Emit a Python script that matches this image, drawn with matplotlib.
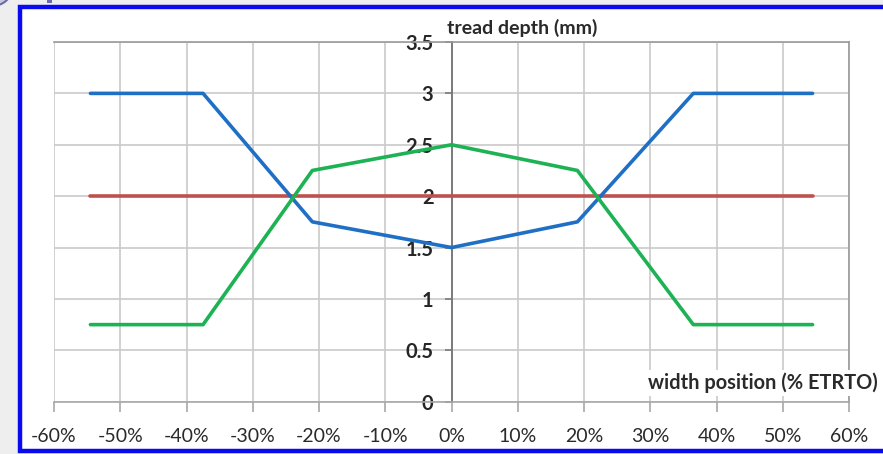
import matplotlib
matplotlib.use("Agg")
import matplotlib.pyplot as plt
from matplotlib.patches import Rectangle, Ellipse

plt.rcParams['font.family'] = ['Lato', 'DejaVu Sans']

# ---- data ----
x_pos = [-54.5, -37.5, -21, 0, 19, 36.5, 54.5]
blue_depth = [3, 3, 1.75, 1.5, 1.75, 3, 3]
green_depth = [0.75, 0.75, 2.25, 2.5, 2.25, 0.75, 0.75]
red_x = [-54.5, 54.5]
red_depth = [2, 2]
x_ticks = [-60, -50, -40, -30, -20, -10, 0, 10, 20, 30, 40, 50, 60]
x_ticklabels = [f"{v}%" for v in x_ticks]
y_ticks = [0, 0.5, 1, 1.5, 2, 2.5, 3, 3.5]
y_ticklabels = ["0", "0.5", "1", "1.5", "2", "2.5", "3", "3.5"]
y_title = "tread depth (mm)"
x_title = "width position (% ETRTO)"

W, H = 883, 454
fig = plt.figure(figsize=(W / 100, H / 100), dpi=100)
fig.patch.set_facecolor('#EEEEEE')

# slide frame
frame = Rectangle((19.5 / W, 3.0 / H), 1.0, (H - 6.5 - 3.0) / H, transform=fig.transFigure,
                  facecolor='white', edgecolor='#0A0AF0', linewidth=3.2, zorder=-5)
fig.patches.append(frame)
blob = Ellipse((-8 / W, (H + 12) / H), 40 / W, 36 / H, transform=fig.transFigure,
               facecolor='#C8C8DC', edgecolor='#6A6AB0', linewidth=1.5, zorder=-5)
fig.patches.append(blob)
mark = Rectangle((47 / W, (H - 3) / H), 5 / W, 4 / H, transform=fig.transFigure,
                 facecolor='#6A6AB0', edgecolor='none', zorder=-5)
fig.patches.append(mark)

ax = fig.add_axes([54 / W, 52.3 / H, 795 / W, 359.7 / H])
ax.set_facecolor('none')
ax.set_zorder(2)

ax.plot(red_x, red_depth, color='#C0504D', lw=2.6, zorder=3, solid_capstyle='round')
ax.plot(x_pos, blue_depth, color='#1F6FC5', lw=2.6, zorder=4, solid_capstyle='round')
ax.plot(x_pos, green_depth, color='#1DB254', lw=2.6, zorder=5, solid_capstyle='round')

ax.set_xlim(-60, 60)
ax.set_ylim(0, 3.5)

ax.grid(True, color='#CACACA', lw=1.2, zorder=1)
ax.set_axisbelow(True)

for s in ['top', 'right']:
    ax.spines[s].set_color('#9A9A9A')
    ax.spines[s].set_linewidth(1.2)
ax.spines['bottom'].set_color('#A8A8A8')
ax.spines['bottom'].set_linewidth(1.2)
ax.spines['left'].set_position(('data', 0))
ax.spines['left'].set_color('#7A7A7A')
ax.spines['left'].set_linewidth(1.4)

ax.tick_params(axis='x', direction='out', length=7, width=1.2, color='#A8A8A8',
               pad=12, labelsize=14, labelcolor='#2A2A2A')
ax.tick_params(axis='y', direction='out', length=5, width=1.2, color='#7A7A7A',
               pad=8, labelsize=14.5, labelcolor='#262626')

ax.set_xticks(x_ticks)
ax.set_xticklabels(x_ticklabels)
ax.set_yticks(y_ticks)
ax.set_yticklabels(y_ticklabels)
for lbl in ax.get_yticklabels():
    lbl.set_fontweight('bold')

ax.text(0.494, 1.038, y_title, transform=ax.transAxes, ha='left', va='center',
        fontsize=14, fontweight='bold', color='#2A2A2A', zorder=10, clip_on=False,
        bbox=dict(facecolor='white', edgecolor='none', pad=2))
ax.text(0.747, 0.052, x_title, transform=ax.transAxes, ha='left', va='center',
        fontsize=14.4, fontweight='bold', color='#2A2A2A', zorder=10, clip_on=False,
        bbox=dict(facecolor='white', edgecolor='none', pad=2))

fig.savefig('out.png', dpi=100, facecolor=fig.get_facecolor())
